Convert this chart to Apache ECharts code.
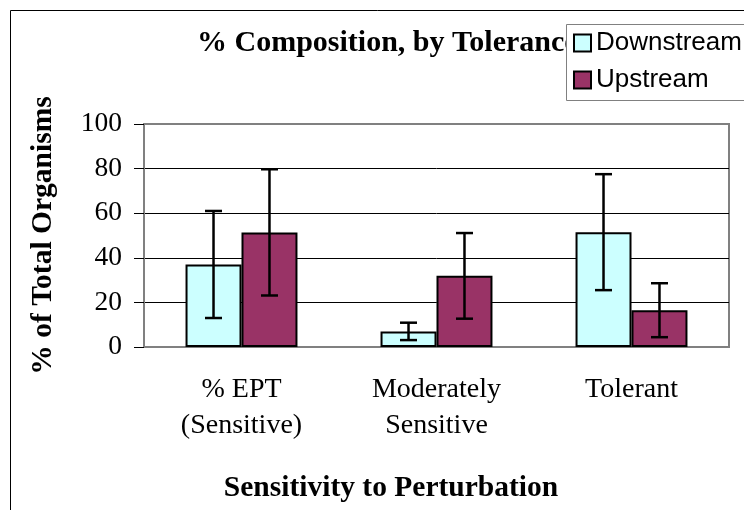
<!DOCTYPE html>
<html>
<head>
  <meta charset="utf-8">
  <title>Composition by Tolerance</title>
  <script src="https://cdn.jsdelivr.net/npm/echarts@6/dist/echarts.min.js"></script>
  <style>
    html, body { margin: 0; padding: 0; background: #fff; }
    #container { width: 744px; height: 510px; }
  </style>
</head>
<body>
  <div id="container"></div>
  <script>
    // values
    var categories = ['% EPT\n(Sensitive)', 'Moderately\nSensitive', 'Tolerant'];
    var downstream = [37, 7, 51.5];
    var downstreamErr = [24, 3.9, 26];
    var upstream = [51.4, 31.9, 16.5];
    var upstreamErr = [28.3, 19.2, 12.1];
    var yTicks = { min: 0, max: 100, interval: 20 };

    var serif = 'Liberation Serif, Times New Roman, serif';
    var sans = 'Liberation Sans, Arial, sans-serif';
    var catGap = 0.426;

    var myChart = echarts.init(document.getElementById('container'));

    function errorBars(means, errs, side) {
      return {
        type: 'custom',
        z: 5,
        silent: true,
        data: means.map(function (m, i) { return [i, m, errs[i]]; }),
        renderItem: function (params, api) {
          var band = api.size([1, 0])[0];
          var barW = band * (1 - catGap) / 2;
          var mean = api.value(1), err = api.value(2);
          var top = api.coord([api.value(0), mean + err]);
          var bot = api.coord([api.value(0), mean - err]);
          var x = top[0] + side * barW / 2;
          var cap = 8.5;
          var style = { stroke: '#000', lineWidth: 2.5 };
          return {
            type: 'group',
            children: [
              { type: 'line', shape: { x1: x, y1: top[1], x2: x, y2: bot[1] }, style: style },
              { type: 'line', shape: { x1: x - cap, y1: top[1], x2: x + cap, y2: top[1] }, style: style },
              { type: 'line', shape: { x1: x - cap, y1: bot[1], x2: x + cap, y2: bot[1] }, style: style }
            ]
          };
        }
      };
    }

    var option = {
      animation: false,
      backgroundColor: '#fff',
      graphic: [
        {
          type: 'rect', z: -10, silent: true,
          shape: { x: 10.5, y: 10.5, width: 900, height: 700 },
          style: { fill: 'none', stroke: '#000', lineWidth: 1 }
        },
        {
          // legend frame, runs off the right edge like the original
          type: 'rect', z: 8, silent: true,
          shape: { x: 566.5, y: 24.5, width: 300, height: 76 },
          style: { fill: '#fff', stroke: '#808080', lineWidth: 1 }
        },
        {
          type: 'text', silent: true,
          x: 391, y: 488,
          style: {
            text: 'Sensitivity to Perturbation',
            font: 'bold 29.5px ' + serif,
            fill: '#000',
            align: 'center',
            verticalAlign: 'middle'
          }
        }
      ],
      title: {
        text: '% Composition, by Tolerance',
        left: 197,
        top: 28,
        padding: 0,
        z: 2,
        textStyle: { fontFamily: serif, fontWeight: 'bold', fontSize: 30, color: '#000' }
      },
      legend: {
        orient: 'vertical',
        left: 566,
        top: 24,
        z: 10,
        padding: [6, 0, 6, 7],
        itemGap: 11,
        itemWidth: 17,
        itemHeight: 17,
        itemTextGap: 6,
        icon: 'rect',
        itemStyle: { borderColor: '#000', borderWidth: 2 },
        textStyle: { fontFamily: sans, fontSize: 26, color: '#000', lineHeight: 26 },
        data: ['Downstream', 'Upstream']
      },
      grid: {
        left: 144,
        right: 15,
        top: 124,
        bottom: 163,
        show: true,
        borderColor: '#808080',
        borderWidth: 2,
        backgroundColor: '#fff'
      },
      xAxis: {
        type: 'category',
        data: categories,
        axisLine: { lineStyle: { color: '#808080', width: 2 } },
        axisTick: { length: 10, lineStyle: { color: '#808080', width: 1.5 } },
        axisLabel: {
          margin: 25,
          fontFamily: serif,
          fontSize: 28,
          lineHeight: 36,
          color: '#000',
          verticalAlign: 'top'
        }
      },
      yAxis: {
        type: 'value',
        min: yTicks.min,
        max: yTicks.max,
        interval: yTicks.interval,
        name: '% of Total Organisms',
        nameLocation: 'middle',
        nameGap: 86,
        nameTextStyle: { fontFamily: serif, fontWeight: 'bold', fontSize: 29.5, color: '#000' },
        axisLine: { show: true, lineStyle: { color: '#808080', width: 2 } },
        axisTick: { show: true, length: 10, lineStyle: { color: '#000', width: 1 } },
        axisLabel: { margin: 22, fontFamily: serif, fontSize: 27.5, color: '#000' },
        splitLine: { show: true, showMaxLine: false, showMinLine: false, lineStyle: { color: '#000', width: 1 } }
      },
      series: [
        {
          name: 'Downstream',
          type: 'bar',
          data: downstream,
          barGap: '0%',
          barCategoryGap: (catGap * 100) + '%',
          itemStyle: { color: '#CCFFFF', borderColor: '#000', borderWidth: 2 }
        },
        {
          name: 'Upstream',
          type: 'bar',
          data: upstream,
          itemStyle: { color: '#993366', borderColor: '#000', borderWidth: 2 }
        },
        errorBars(downstream, downstreamErr, -1),
        errorBars(upstream, upstreamErr, 1)
      ]
    };
    myChart.setOption(option);
  </script>
</body>
</html>
